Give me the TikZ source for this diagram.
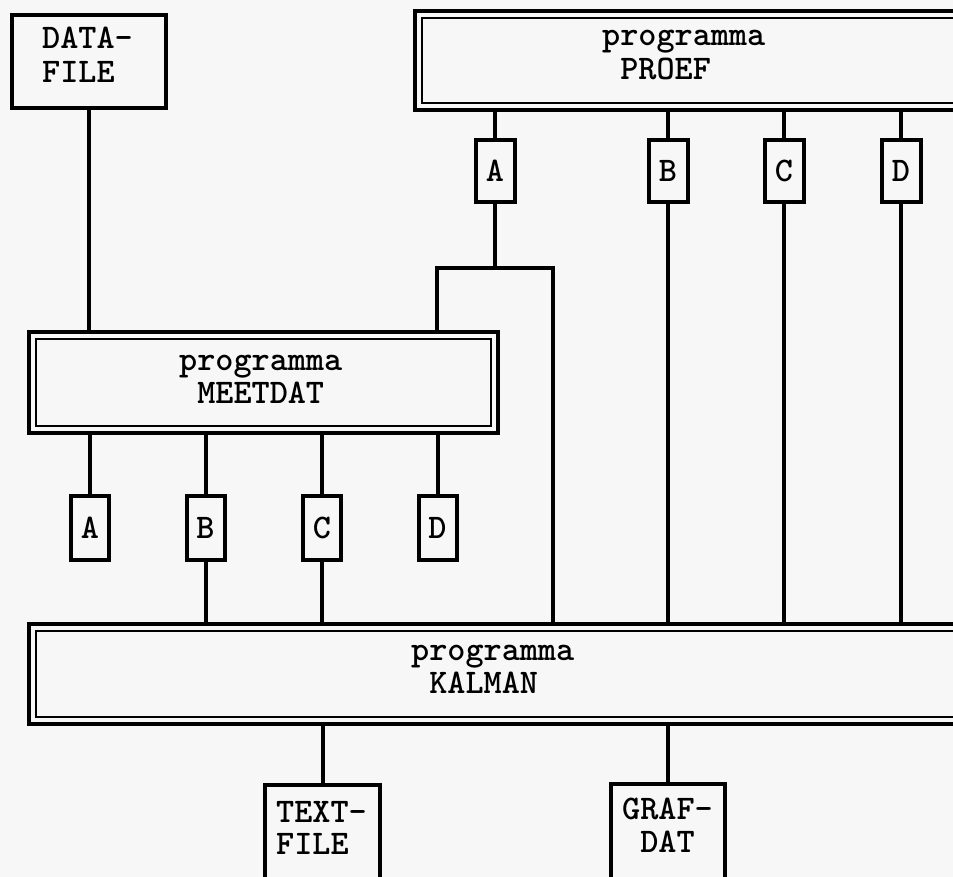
\documentclass[tikz,border=0pt]{standalone}
\usepackage{fontspec}
\definecolor{bgc}{RGB}{247,247,247}
\newcommand\twolines[3]{\vtop{\baselineskip=#3pt\lineskiplimit=-100pt\hbox{#1}\hbox{#2}}}
\newcommand\indt{\kern0.525em}
\begin{document}
\begin{tikzpicture}[x=1pt,y=-1pt,
  lab/.style={font=\ttfamily\bfseries\fontsize{34.5}{33}\selectfont},
  frame/.style={draw,line width=4pt,inner sep=0pt},
  inframe/.style={draw,line width=2pt,inner sep=0pt},
  pbox/.style={frame,lab,minimum width=39pt,minimum height=62pt},
  mbox/.style={frame,lab,minimum width=38pt,minimum height=64pt},
  txt/.style={lab,anchor=base west,inner sep=0pt},
  conn/.style={line width=4pt}]
\useasboundingbox (0,0) rectangle (953,877);
\fill[bgc] (0,0) rectangle (953,877);
\clip (0,0) rectangle (953,877);

% file boxes
\node[frame,minimum width=154pt,minimum height=93pt] (datafile) at (89,61.5) {};
\node[frame,minimum width=115pt,minimum height=115pt] (textfile) at (322.5,842.5) {};
\node[frame,minimum width=114pt,minimum height=116pt] (grafdat) at (668,842) {};

% program boxes (double frame)
\node[frame,minimum width=555pt,minimum height=99pt] (proef) at (692.5,60.5) {};
\node[inframe,minimum width=541pt,minimum height=85pt] (proefin) at (692.5,60.5) {};
\node[frame,minimum width=469pt,minimum height=101pt] (meetdat) at (263.5,382.5) {};
\node[inframe,minimum width=455pt,minimum height=87pt] (meetdatin) at (263.5,382.5) {};
\node[frame,minimum width=941pt,minimum height=100pt] (kalman) at (499.5,674) {};
\node[inframe,minimum width=927pt,minimum height=86pt] (kalmanin) at (499.5,674) {};

% texts
\node[txt] (tdata) at (42,49) {\twolines{DATA-}{FILE}{34}};
\node[txt] (tproef) at (602,46) {\twolines{programma}{\indt PROEF}{34}};
\node[txt] (tmeet) at (179,370) {\twolines{programma}{\indt MEETDAT}{33}};
\node[txt] (tkal) at (411,660) {\twolines{programma}{\indt KALMAN}{33}};
\node[txt] (ttext) at (276,822) {\twolines{TEXT-}{FILE}{32}};
\node[txt] (tgraf) at (622,819) {\twolines{GRAF-}{\indt DAT}{33}};

% PROEF outputs
\node[pbox] (pA) at (495,171) {A};
\node[pbox] (pB) at (668,171) {B};
\node[pbox] (pC) at (784,171) {C};
\node[pbox] (pD) at (901,171) {D};

% MEETDAT outputs
\node[mbox] (mA) at (90,528) {A};
\node[mbox] (mB) at (205.5,528) {B};
\node[mbox] (mC) at (322,528) {C};
\node[mbox] (mD) at (437.5,528) {D};

% junction of PROEF A
\coordinate (jA) at (495,268);
\coordinate (jL) at (437,268);
\coordinate (jR) at (553,268);

% connectors
\draw[conn] (datafile.south) -- (datafile.south |- meetdat.north);
\foreach \n in {pA,pB,pC,pD}{
  \draw[conn] (\n.north) -- (\n.north |- proef.south);
}
\draw[conn] (pA.south) -- (jA);
\draw[conn] (jL |- meetdat.north) -- (jL) -- (jR) -- (jR |- kalman.north);
\foreach \n in {pB,pC,pD}{
  \draw[conn] (\n.south) -- (\n.south |- kalman.north);
}
\foreach \n in {mA,mB,mC,mD}{
  \draw[conn] (\n.north) -- (\n.north |- meetdat.south);
}
\foreach \n in {mB,mC}{
  \draw[conn] (\n.south) -- (\n.south |- kalman.north);
}
\draw[conn] (textfile.north) -- (textfile.north |- kalman.south);
\draw[conn] (grafdat.north) -- (grafdat.north |- kalman.south);
\end{tikzpicture}
\end{document}
